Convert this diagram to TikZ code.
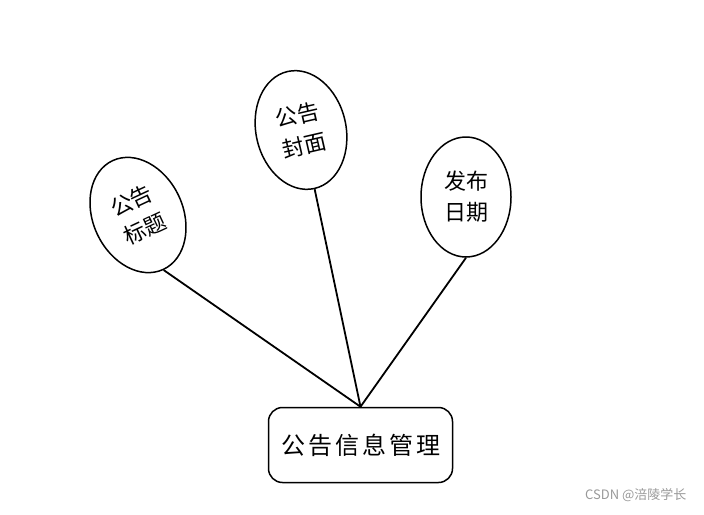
\documentclass[tikz,border=0pt]{standalone}
\usepackage{fontspec}
\newfontfamily\cjk{Noto Sans CJK SC}
\usetikzlibrary{shapes.geometric}
\begin{document}
\begin{tikzpicture}[x=1pt,y=-1pt,
  attr/.style={ellipse,draw,line width=1.5pt,minimum width=90pt,minimum height=120pt,inner sep=0pt,
    align=center,font=\cjk\fontsize{22}{31}\selectfont},
  entity/.style={draw,line width=1.5pt,rounded corners=14pt,minimum width=184pt,minimum height=75pt,
    inner sep=0pt,font=\cjk\fontsize{24}{28}\selectfont},
  link/.style={line width=1.8pt}]
\useasboundingbox (0,0) rectangle (704,514);
\node[entity] (r) at (360.5,445) {公\hspace{3pt}告\hspace{3pt}信\hspace{3pt}息\hspace{3pt}管\hspace{3pt}理};
\node[attr,rotate=25] (e1) at (138,215) {公告\\标题};
\node[attr,rotate=13] (e2) at (301,130) {公告\\封面};
\node[attr] (e3) at (466,197) {发布\\日期};
\draw[link] (e1.south) -- (r.north);
\draw[link] (e2.south) -- (r.north);
\draw[link] (e3.south) -- (r.north);
\node[text=black!40,font=\cjk\fontsize{13}{15}\selectfont,anchor=east] (wm) at (690,495) {CSDN @涪陵学长};
\end{tikzpicture}
\end{document}
